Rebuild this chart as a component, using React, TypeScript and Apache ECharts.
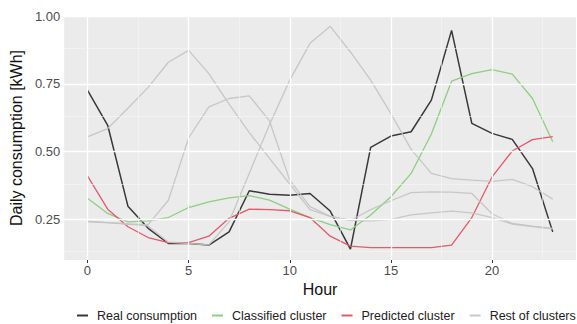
import React, { useEffect, useRef } from "react";
import * as echarts from "echarts";

const hours = [0, 1, 2, 3, 4, 5, 6, 7, 8, 9, 10, 11, 12, 13, 14, 15, 16, 17, 18, 19, 20, 21, 22, 23];
const realConsumption = [0.727, 0.597, 0.298, 0.216, 0.16, 0.16, 0.154, 0.203, 0.355, 0.342, 0.338, 0.345, 0.28, 0.139, 0.515, 0.557, 0.573, 0.69, 0.948, 0.604, 0.567, 0.545, 0.437, 0.203];
const classifiedCluster = [0.327, 0.271, 0.24, 0.244, 0.256, 0.293, 0.314, 0.329, 0.337, 0.32, 0.287, 0.256, 0.23, 0.21, 0.265, 0.333, 0.419, 0.565, 0.76, 0.788, 0.803, 0.786, 0.696, 0.536];
const predictedCluster = [0.41, 0.287, 0.222, 0.182, 0.163, 0.163, 0.187, 0.253, 0.287, 0.285, 0.281, 0.256, 0.187, 0.15, 0.145, 0.145, 0.145, 0.145, 0.154, 0.256, 0.406, 0.502, 0.544, 0.555];
const restA = [0.554, 0.585, 0.66, 0.737, 0.83, 0.874, 0.788, 0.675, 0.57, 0.475, 0.38, 0.285, 0.26, 0.245, 0.285, 0.318, 0.348, 0.351, 0.35, 0.345, 0.27, 0.234, 0.224, 0.216];
const restB = [0.243, 0.237, 0.232, 0.23, 0.32, 0.55, 0.665, 0.696, 0.706, 0.613, 0.394, 0.296, 0.26, 0.246, 0.244, 0.249, 0.266, 0.273, 0.28, 0.273, 0.256, 0.232, 0.222, 0.214];
const restC = [0.24, 0.237, 0.232, 0.225, 0.165, 0.16, 0.155, 0.24, 0.42, 0.6, 0.764, 0.9, 0.963, 0.868, 0.764, 0.64, 0.508, 0.419, 0.4, 0.394, 0.39, 0.397, 0.37, 0.324];

const xTicks = [0, 5, 10, 15, 20];
const xMinorGrid = [2.5, 7.5, 12.5, 17.5, 22.5];
const yTicks = [0.25, 0.5, 0.75, 1.0];
const yMinorGrid = [0.125, 0.375, 0.625, 0.875];

const FONT = "'Liberation Sans', Arial, Helvetica, sans-serif";

const pairs = (vals: number[]) => hours.map((h, i) => [h, vals[i]]);

export default function App() {
  const ref = useRef<HTMLDivElement>(null);
  useEffect(() => {
    if (!ref.current) return;
    const chart = echarts.init(ref.current, null, { renderer: "svg" });
    const gridLines: any[] = [
      ...xTicks.map((v) => ({ xAxis: v, lineStyle: { color: "#ffffff", width: 1.3, type: "solid" } })),
      ...xMinorGrid.map((v) => ({ xAxis: v, lineStyle: { color: "#f7f7f7", width: 0.6, type: "solid" } })),
      ...yTicks.map((v) => ({ yAxis: v, lineStyle: { color: "#ffffff", width: 1.3, type: "solid" } })),
      ...yMinorGrid.map((v) => ({ yAxis: v, lineStyle: { color: "#f7f7f7", width: 0.6, type: "solid" } })),
    ];
    const lineSeries = (name: string, vals: number[], color: string, width: number, z: number) => ({
      type: "line",
      name,
      data: pairs(vals),
      showSymbol: false,
      symbol: "none",
      z,
      lineStyle: { color, width },
      itemStyle: { color },
    });
    chart.setOption({
      animation: false,
      textStyle: { fontFamily: FONT },
      grid: {
        left: 59,
        right: 1,
        top: 16,
        bottom: 64,
        show: true,
        backgroundColor: "#ebebeb",
        borderWidth: 0,
      },
      legend: {
        left: 72,
        top: 304,
        width: 540,
        itemWidth: 11,
        itemHeight: 2,
        itemGap: 15,
        icon: "rect",
        textStyle: { fontFamily: FONT, fontSize: 12.5, color: "#222", padding: [0, 0, 0, 4] },
        data: ["Real consumption", "Classified cluster", "Predicted cluster", "Rest of clusters"],
      },
      xAxis: {
        type: "value",
        min: -1.15,
        max: 24.15,
        name: "Hour",
        nameLocation: "middle",
        nameGap: 14,
        nameTextStyle: { fontFamily: FONT, fontSize: 16, color: "#111" },
        axisLine: { show: false },
        axisTick: { show: true, length: 3, customValues: xTicks, lineStyle: { color: "#333" } },
        axisLabel: {
          customValues: xTicks,
          fontFamily: FONT,
          fontSize: 13,
          color: "#4d4d4d",
          margin: 4,
        },
        splitLine: { show: false },
      },
      yAxis: {
        type: "value",
        min: 0.099,
        max: 1.001,
        name: "Daily consumption [kWh]",
        nameLocation: "middle",
        nameGap: 32,
        nameRotate: 90,
        nameTextStyle: { fontFamily: FONT, fontSize: 16, color: "#111" },
        axisLine: { show: false },
        axisTick: { show: true, length: 3, customValues: yTicks, lineStyle: { color: "#333" } },
        axisLabel: {
          customValues: yTicks,
          fontFamily: FONT,
          fontSize: 13,
          color: "#4d4d4d",
          margin: 4,
          formatter: (v: number) => v.toFixed(2),
        },
        splitLine: { show: false },
      },
      series: [
        {
          type: "line",
          name: "grid",
          data: [],
          z: 1,
          silent: true,
          markLine: {
            silent: true,
            symbol: ["none", "none"],
            label: { show: false },
            data: gridLines,
          },
        },
        lineSeries("Real consumption", realConsumption, "#383838", 1.5, 3),
        lineSeries("Classified cluster", classifiedCluster, "#8ccf7e", 1.3, 3),
        lineSeries("Predicted cluster", predictedCluster, "#e8586a", 1.3, 3),
        lineSeries("Rest of clusters", restA, "rgba(195,195,195,0.9)", 1.3, 4),
        lineSeries("Rest of clusters", restB, "rgba(195,195,195,0.9)", 1.3, 4),
        lineSeries("Rest of clusters", restC, "rgba(195,195,195,0.9)", 1.3, 4),
      ],
    });
    return () => chart.dispose();
  }, []);
  return <div ref={ref} style={{ width: 577, height: 324, position: "absolute", left: 0, top: 0 }} />;
}
